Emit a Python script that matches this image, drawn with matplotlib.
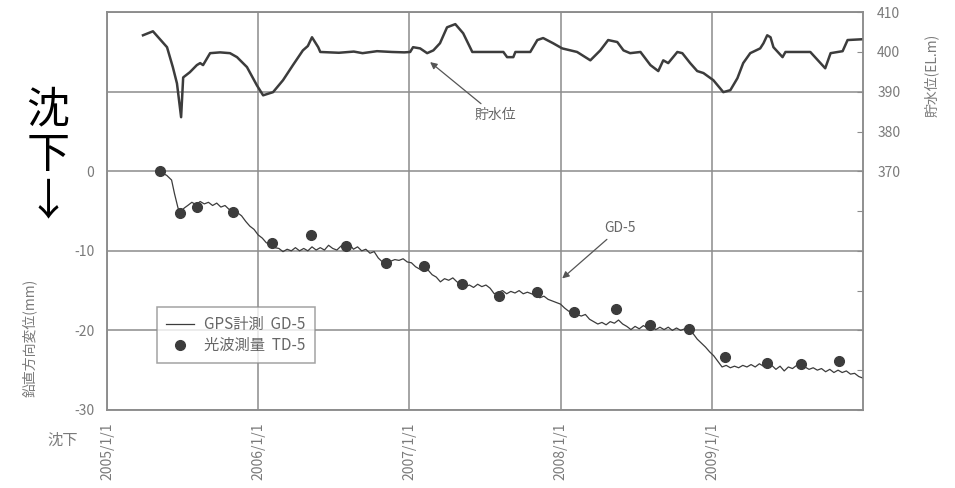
import matplotlib
matplotlib.use('Agg')
import matplotlib.pyplot as plt
import pandas as pd

plt.rcParams['font.family'] = ['Noto Sans CJK JP', 'DejaVu Sans']

# reservoir water level (EL.m), right axis
wl_dates = ['2005-03-29', '2005-04-22', '2005-05-26', '2005-06-09', '2005-06-19', '2005-06-29',
            '2005-07-04', '2005-07-20', '2005-08-06', '2005-08-14', '2005-08-21', '2005-09-07',
            '2005-10-01', '2005-10-25', '2005-11-11', '2005-12-05', '2005-12-29', '2006-01-13',
            '2006-02-06', '2006-03-02', '2006-03-26', '2006-04-19', '2006-05-01', '2006-05-11',
            '2006-05-26', '2006-05-31', '2006-07-15', '2006-08-20', '2006-09-10', '2006-10-15',
            '2006-11-20', '2006-12-20', '2007-01-03', '2007-01-10', '2007-01-27', '2007-02-13',
            '2007-02-28', '2007-03-16', '2007-04-02', '2007-04-22', '2007-05-11', '2007-06-02',
            '2007-08-16', '2007-08-25', '2007-09-09', '2007-09-14', '2007-10-20', '2007-11-06',
            '2007-11-20', '2007-12-14', '2008-01-05', '2008-02-10', '2008-03-13', '2008-04-06',
            '2008-04-25', '2008-05-17', '2008-06-01', '2008-06-17', '2008-07-12', '2008-08-05',
            '2008-08-24', '2008-09-05', '2008-09-17', '2008-10-09', '2008-10-21', '2008-11-09',
            '2008-11-26', '2008-12-11', '2009-01-04', '2009-01-28', '2009-02-14', '2009-03-03',
            '2009-03-17', '2009-04-03', '2009-04-27', '2009-05-05', '2009-05-14', '2009-05-22',
            '2009-05-29', '2009-06-20', '2009-06-27', '2009-08-26', '2009-10-01', '2009-10-14',
            '2009-11-12', '2009-11-24', '2009-12-30']
wl_level = [404.2, 405.2, 401.2, 396.2, 392.1, 383.6,
            393.6, 394.9, 396.7, 397.2, 396.7, 399.7,
            399.9, 399.7, 398.7, 396.2, 391.6, 389.1,
            389.9, 392.9, 396.7, 400.4, 401.5, 403.7,
            401.2, 400.0, 399.8, 400.1, 399.7, 400.2,
            400.0, 399.9, 400.0, 401.2, 400.9, 399.7,
            400.4, 402.2, 406.2, 407.0, 404.7, 400.0,
            400.0, 398.7, 398.7, 400.0, 400.0, 403.0,
            403.5, 402.2, 400.9, 400.0, 397.9, 400.4,
            403.0, 402.5, 400.4, 399.7, 400.0, 396.7,
            395.2, 397.9, 397.2, 400.0, 399.7, 397.2,
            395.2, 394.7, 392.9, 389.9, 390.4, 393.4,
            397.2, 399.7, 400.9, 402.2, 404.2, 403.7,
            401.2, 398.7, 400.0, 400.0, 395.9, 399.7,
            400.2, 403.0, 403.2]

# GPS GD-5 vertical displacement (mm)
gd_dates = ['2005-05-08', '2005-05-25', '2005-06-06', '2005-06-13', '2005-06-21', '2005-06-25',
            '2005-07-07', '2005-07-15', '2005-07-25', '2005-08-04', '2005-08-14', '2005-08-24',
            '2005-09-03', '2005-09-13', '2005-09-23', '2005-10-03', '2005-10-13', '2005-10-23',
            '2005-11-02', '2005-11-12', '2005-11-22', '2005-12-02', '2005-12-12', '2005-12-22',
            '2006-01-01', '2006-01-11', '2006-01-21', '2006-01-31', '2006-02-10', '2006-02-20',
            '2006-03-02', '2006-03-12', '2006-03-22', '2006-04-01', '2006-04-11', '2006-04-21',
            '2006-05-01', '2006-05-11', '2006-05-21', '2006-05-31', '2006-06-10', '2006-06-20',
            '2006-06-30', '2006-07-10', '2006-07-20', '2006-07-30', '2006-08-09', '2006-08-19',
            '2006-08-29', '2006-09-08', '2006-09-18', '2006-09-28', '2006-10-08', '2006-10-18',
            '2006-10-28', '2006-11-07', '2006-11-17', '2006-11-27', '2006-12-07', '2006-12-17',
            '2006-12-27', '2007-01-06', '2007-01-16', '2007-01-26', '2007-02-05', '2007-02-15',
            '2007-02-25', '2007-03-07', '2007-03-17', '2007-03-27', '2007-04-06', '2007-04-16',
            '2007-04-26', '2007-05-06', '2007-05-16', '2007-05-26', '2007-06-05', '2007-06-15',
            '2007-06-25', '2007-07-05', '2007-07-15', '2007-07-25', '2007-08-04', '2007-08-14',
            '2007-08-24', '2007-09-03', '2007-09-13', '2007-09-23', '2007-10-03', '2007-10-13',
            '2007-10-23', '2007-11-02', '2007-11-12', '2007-11-22', '2007-12-02', '2007-12-12',
            '2007-12-22', '2008-01-01', '2008-01-11', '2008-01-21', '2008-01-31', '2008-02-10',
            '2008-02-20', '2008-03-01', '2008-03-11', '2008-03-21', '2008-03-31', '2008-04-10',
            '2008-04-20', '2008-04-30', '2008-05-10', '2008-05-20', '2008-05-30', '2008-06-09',
            '2008-06-19', '2008-06-29', '2008-07-09', '2008-07-19', '2008-07-29', '2008-08-08',
            '2008-08-18', '2008-08-28', '2008-09-07', '2008-09-17', '2008-09-27', '2008-10-07',
            '2008-10-17', '2008-10-27', '2008-11-06', '2008-11-16', '2008-11-26', '2008-12-06',
            '2008-12-16', '2008-12-26', '2009-01-05', '2009-01-15', '2009-01-25', '2009-02-04',
            '2009-02-14', '2009-02-24', '2009-03-06', '2009-03-16', '2009-03-26', '2009-04-05',
            '2009-04-15', '2009-04-25', '2009-05-05', '2009-05-15', '2009-05-25', '2009-06-04',
            '2009-06-14', '2009-06-24', '2009-07-04', '2009-07-14', '2009-07-24', '2009-08-03',
            '2009-08-13', '2009-08-23', '2009-09-02', '2009-09-12', '2009-09-22', '2009-10-02',
            '2009-10-12', '2009-10-22', '2009-11-01', '2009-11-11', '2009-11-21', '2009-12-01',
            '2009-12-11', '2009-12-21', '2009-12-31']
gd_mm = [-0.1, -0.5, -1.1, -2.8, -4.5, -5.2,
         -4.6, -4.3, -3.9, -4.2, -3.8, -4.1,
         -3.9, -4.3, -4.0, -4.5, -4.3, -4.8,
         -4.7, -5.2, -5.6, -6.3, -6.9, -7.3,
         -8.0, -8.4, -9.0, -9.1, -9.6, -9.7,
         -10.1, -9.8, -10.0, -9.6, -10.0, -9.7,
         -10.0, -9.5, -9.9, -9.6, -9.9, -9.3,
         -9.7, -9.9, -9.4, -9.8, -9.1, -9.8,
         -9.5, -10.0, -9.8, -10.3, -10.1, -10.9,
         -11.4, -11.0, -11.3, -11.1, -11.2, -11.0,
         -11.4, -11.5, -12.0, -12.3, -12.6, -12.4,
         -13.0, -13.3, -13.9, -13.5, -13.7, -13.4,
         -13.9, -14.2, -14.5, -14.3, -14.6, -14.2,
         -14.5, -14.3, -14.7, -15.4, -15.2, -15.0,
         -15.4, -15.1, -15.3, -15.0, -15.4, -15.2,
         -15.4, -15.6, -15.9, -15.7, -16.1, -16.3,
         -16.5, -16.7, -17.2, -17.6, -17.5, -18.0,
         -18.2, -18.0, -18.6, -18.9, -19.2, -19.0,
         -19.3, -18.9, -19.1, -18.7, -19.2, -19.5,
         -19.9, -19.5, -19.8, -19.4, -19.7, -19.5,
         -19.9, -19.6, -19.9, -19.6, -20.0, -19.7,
         -20.0, -19.8, -19.9, -20.4, -21.1, -21.6,
         -22.1, -22.7, -23.2, -23.9, -24.6, -24.4,
         -24.7, -24.5, -24.7, -24.4, -24.6, -24.3,
         -24.6, -24.2, -24.5, -24.1, -24.4, -24.9,
         -24.5, -25.1, -24.6, -24.8, -24.4, -24.8,
         -24.6, -24.9, -24.7, -25.0, -24.8, -25.2,
         -24.9, -25.3, -25.0, -25.3, -25.1, -25.5,
         -25.4, -25.8, -26.0]

# total station TD-5 (mm)
td_dates = ['2005-05-09', '2005-06-26', '2005-08-06', '2005-11-01', '2006-02-04', '2006-05-09',
            '2006-08-01', '2006-11-06', '2007-02-06', '2007-05-09', '2007-08-06', '2007-11-06',
            '2008-02-03', '2008-05-15', '2008-08-05', '2008-11-05', '2009-02-02', '2009-05-14',
            '2009-08-04', '2009-11-04']
td_mm = [0.0, -5.3, -4.5, -5.1, -9.0, -8.0,
         -9.4, -11.5, -11.9, -14.2, -15.7, -15.2,
         -17.7, -17.3, -19.3, -19.8, -23.3, -24.1,
         -24.2, -23.8]

year_ticks = ['2005-01-01', '2006-01-01', '2007-01-01', '2008-01-01', '2009-01-01']
year_labels = ['2005/1/1', '2006/1/1', '2007/1/1', '2008/1/1', '2009/1/1']

dark = '#3c3c3c'
grid_c = '#8c8c8c'
txt_c = '#7a7a7a'

fig = plt.figure(figsize=(9.55, 4.88), dpi=100)
ax = fig.add_axes([0.112, 0.160, 0.792, 0.815])
ax2 = ax.twinx()

ax.plot(pd.to_datetime(gd_dates), gd_mm, color=dark, lw=0.9, label='GPS計測  GD-5', zorder=3)
ax.plot(pd.to_datetime(td_dates), td_mm, 'o', color=dark, ms=7, label='光波測量  TD-5', zorder=4)
ax2.plot(pd.to_datetime(wl_dates), wl_level, color=dark, lw=1.8)

ax.set_xlim(pd.Timestamp('2005-01-01'), pd.Timestamp('2010-01-01'))
ax.set_ylim(-30, 20)
ax2.set_ylim(310, 410)

ax.set_xticks(pd.to_datetime(year_ticks))
ax.set_xticklabels(year_labels, rotation=90, color=txt_c, fontsize=10)
ax.set_yticks([-30, -20, -10, 0, 10, 20])
ax.set_yticklabels(['-30', '-20', '-10', '0', '', ''], color=txt_c, fontsize=10)
ax.tick_params(axis='both', length=0, pad=9)
ax.grid(True, color=grid_c, lw=1.1)

ax2.set_yticks(range(310, 411, 10))
ax2.set_yticklabels([str(v) if v >= 370 else '' for v in range(310, 411, 10)],
                    color=txt_c, fontsize=10)
ax2.tick_params(axis='y', direction='in', length=4, color=grid_c, pad=10)

for a in (ax, ax2):
    for s in a.spines.values():
        s.set_color(grid_c)
        s.set_linewidth(1.1)

ax.set_ylabel('鉛直方向変位(mm)', color=txt_c, fontsize=10)
ax.yaxis.set_label_coords(-0.092, 0.18)
ax2.set_ylabel('貯水位(EL.m)', color=txt_c, fontsize=10)
ax2.yaxis.set_label_coords(1.08, 0.84)

leg = ax.legend(loc='upper left', bbox_to_anchor=(0.066, 0.259), borderaxespad=0,
                fontsize=11, frameon=True, fancybox=False, handlelength=1.8,
                handletextpad=0.7, labelspacing=0.25, borderpad=0.6)
leg.get_frame().set_edgecolor(grid_c)
leg.get_frame().set_linewidth(1.1)
for t in leg.get_texts():
    t.set_color('#666666')

arrow = dict(arrowstyle='-|>', color='#555555', lw=0.9, mutation_scale=10)
ax2.annotate('貯水位', xy=(pd.Timestamp('2007-02-15'), 397.9),
             xytext=(pd.Timestamp('2007-07-27'), 384.1), ha='center', va='center',
             color='#666666', fontsize=10, arrowprops=arrow)
ax.annotate('GD-5', xy=(pd.Timestamp('2007-12-31'), -13.7),
            xytext=(pd.Timestamp('2008-05-24'), -7.1), ha='center', va='center',
            color='#666666', fontsize=10, arrowprops=arrow)

fig.text(0.05, 0.68, '沈\n下\n↓', fontsize=31, color='black', ha='center', va='center',
         linespacing=1.05)
fig.text(0.066, 0.098, '沈下', fontsize=11, color=txt_c, ha='center', va='center')

fig.savefig('out.png', dpi=100)
